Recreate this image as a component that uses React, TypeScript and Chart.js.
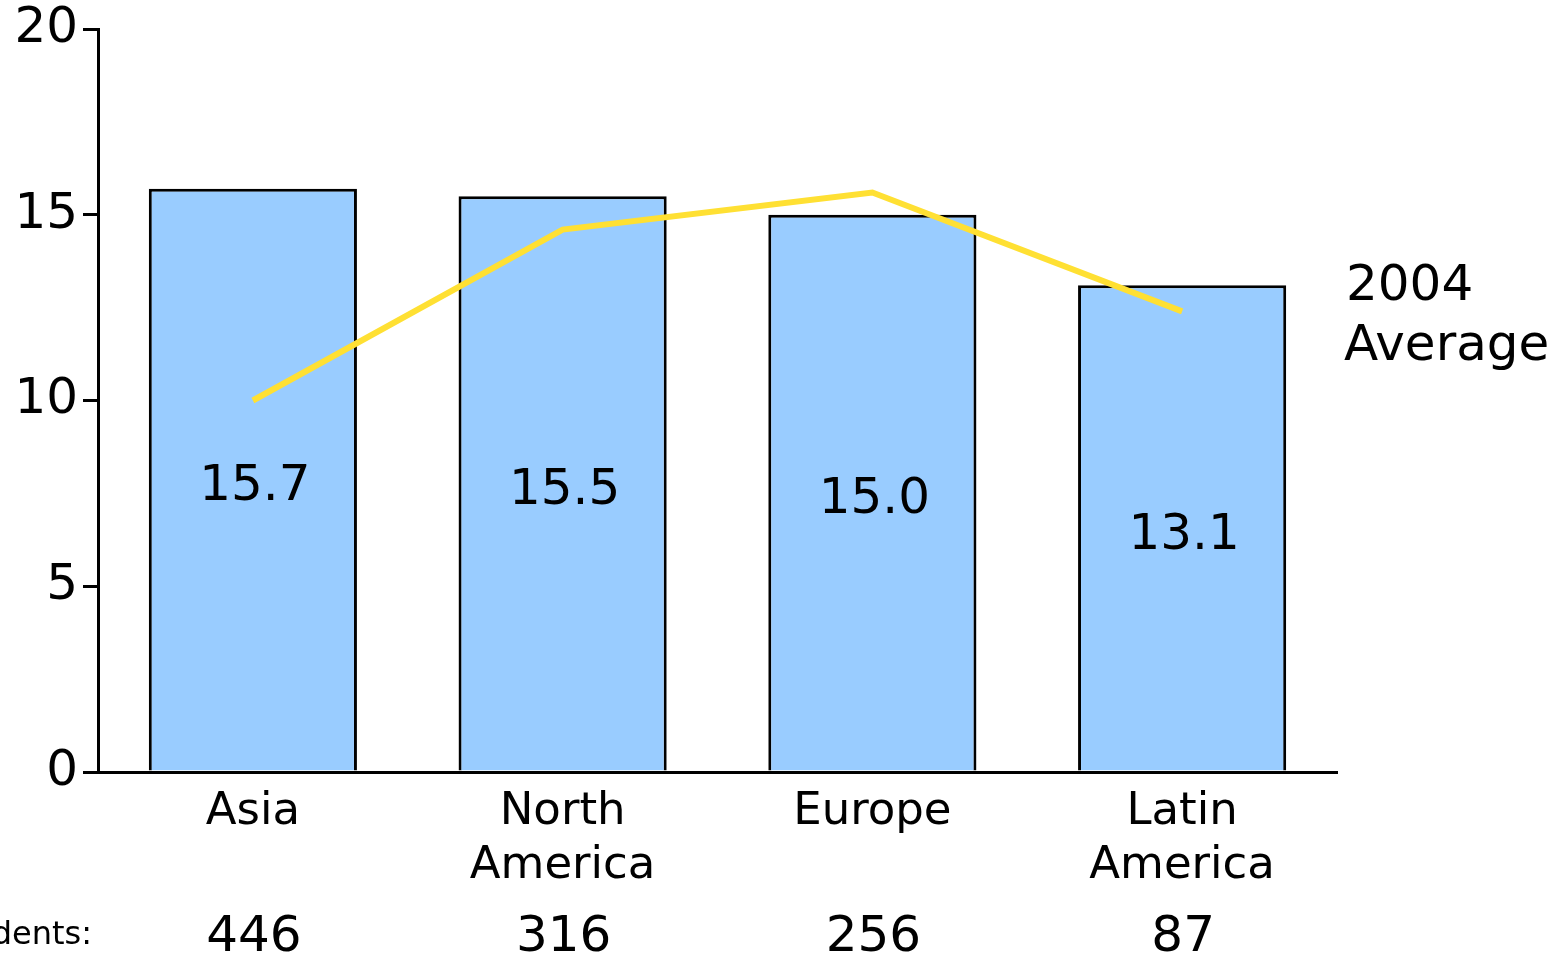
import React, { useEffect, useRef } from "react";
import { Chart, registerables } from "chart.js";

Chart.register(...registerables);

const categories: string[][] = [["Asia"], ["North", "America"], ["Europe"], ["Latin", "America"]];
const barValues: number[] = [15.7, 15.5, 15.0, 13.1];
const average2004: number[] = [10.0, 14.6, 15.6, 12.4];
const respondents: number[] = [446, 316, 256, 87];
const respondentsLabel = "Respondents:";
const averageLabel: string[] = ["2004", "Average"];
const yMin = 0;
const yMax = 20;
const yStep = 5;

const FONT = "'DejaVu Sans', Verdana, sans-serif";

const overlayPlugin = {
  id: "overlay",
  afterDatasetsDraw(chart: any) {
    const ctx = chart.ctx;
    const xs = chart.scales.x;
    const ys = chart.scales.y;
    const area = chart.chartArea;
    ctx.save();
    ctx.fillStyle = "#000";
    // bar value labels
    ctx.font = `50px ${FONT}`;
    ctx.textAlign = "center";
    ctx.textBaseline = "middle";
    barValues.forEach((v, i) => {
      const x = xs.getPixelForValue(i);
      const yTop = ys.getPixelForValue(v);
      const yBase = ys.getPixelForValue(0);
      ctx.fillText(v.toFixed(1), x + 2, (yTop + yBase) / 2 + 7);
    });
    // respondents row
    ctx.font = `50px ${FONT}`;
    respondents.forEach((r, i) => {
      const x = xs.getPixelForValue(i);
      ctx.fillText(String(r), x + 1, 938);
    });
    ctx.font = `32px ${FONT}`;
    ctx.textAlign = "right";
    ctx.fillText(respondentsLabel, area.left - 6, 936);
    // 2004 Average label
    ctx.font = `50px ${FONT}`;
    ctx.textAlign = "left";
    ctx.fillText(averageLabel[0], area.right + 9, 287);
    ctx.fillText(averageLabel[1], area.right + 7, 347);
    ctx.restore();
  },
};

export default function App() {
  const ref = useRef<HTMLCanvasElement | null>(null);
  useEffect(() => {
    if (!ref.current) return;
    const chart = new Chart(ref.current, {
      type: "bar",
      data: {
        labels: categories,
        datasets: [
          {
            type: "line",
            label: "2004 Average",
            data: average2004,
            borderColor: "#FFE033",
            borderWidth: 6,
            pointRadius: 0,
            tension: 0,
            order: 0,
          } as any,
          {
            type: "bar",
            label: "Value",
            data: barValues,
            backgroundColor: "#99CCFF",
            borderColor: "#000000",
            borderWidth: 3,
            borderSkipped: "start",
            categoryPercentage: 1,
            barPercentage: 0.672,
            order: 1,
          },
        ],
      },
      options: {
        responsive: false,
        animation: false,
        layout: { padding: { left: 0, right: 229, top: 29, bottom: 0 } },
        plugins: {
          legend: { display: false },
          tooltip: { enabled: false },
        },
        scales: {
          x: {
            grid: { display: false },
            border: { display: true, color: "#000", width: 3 },
            ticks: {
              color: "#000",
              font: { family: FONT, size: 45, lineHeight: 1.2 },
              padding: 5,
              maxRotation: 0,
              autoSkip: false,
            },
            afterFit: (s: any) => {
              s.height = 186;
              s.paddingLeft = 0;
              s.paddingRight = 0;
            },
          },
          y: {
            min: yMin,
            max: yMax,
            grid: {
              display: true,
              drawOnChartArea: false,
              drawTicks: true,
              tickLength: 15,
              color: "#000",
              lineWidth: 3,
            },
            border: { display: true, color: "#000", width: 3 },
            ticks: {
              stepSize: yStep,
              color: "#000",
              font: { family: FONT, size: 50 },
              padding: 5,
            },
            afterFit: (s: any) => {
              s.width = 98;
              s.paddingTop = 0;
              s.paddingBottom = 0;
            },
          },
        },
      },
      plugins: [overlayPlugin],
    });
    return () => chart.destroy();
  }, []);
  return (
    <div style={{ position: "absolute", left: 0, top: 0, width: 1566, height: 958, background: "#fff" }}>
      <canvas ref={ref} width={1566} height={958} style={{ width: 1566, height: 958 }} />
    </div>
  );
}
